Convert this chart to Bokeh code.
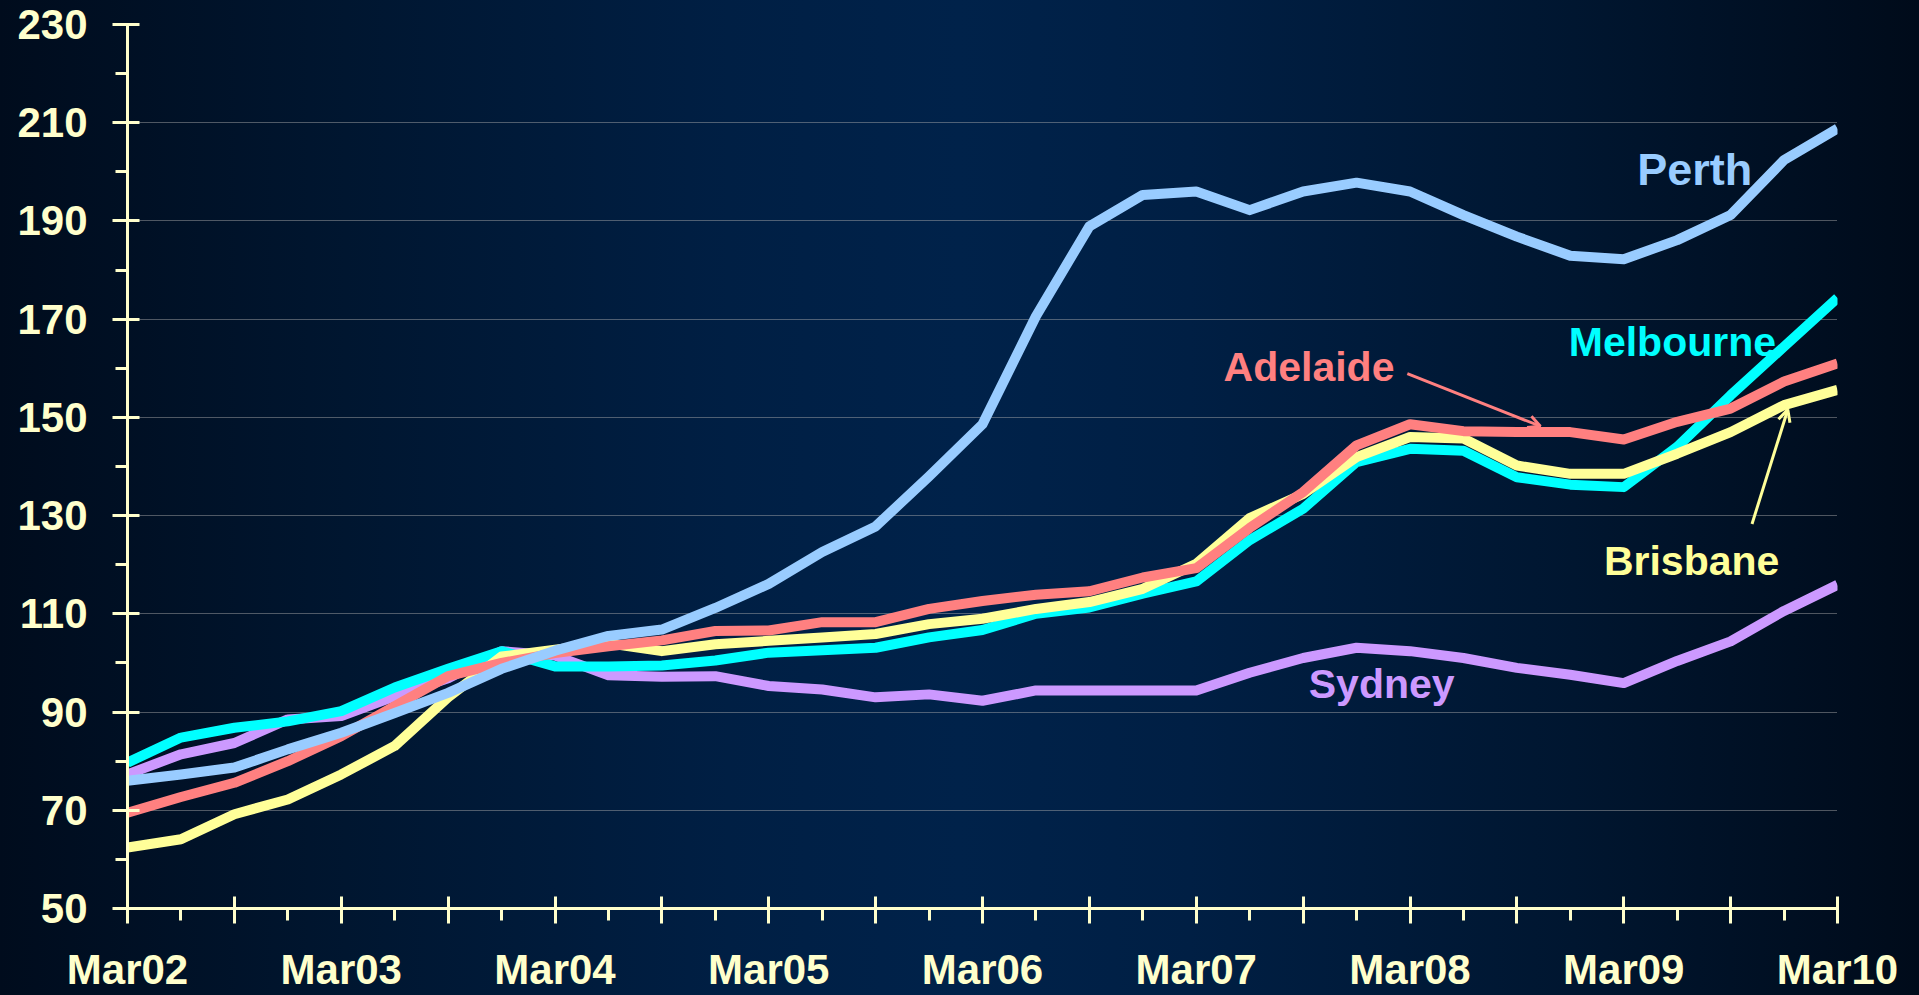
from bokeh.plotting import figure
from bokeh.models import (ColumnDataSource, Range1d, FixedTicker, Arrow, OpenHead,
                          Label, GlobalInlineStyleSheet)
from bokeh.embed import file_html
from bokeh.resources import INLINE

# ---------------- data (quarterly index values) ----------------
quarters = ["Mar02", "Jun02", "Sep02", "Dec02", "Mar03", "Jun03", "Sep03", "Dec03",
            "Mar04", "Jun04", "Sep04", "Dec04", "Mar05", "Jun05", "Sep05", "Dec05",
            "Mar06", "Jun06", "Sep06", "Dec06", "Mar07", "Jun07", "Sep07", "Dec07",
            "Mar08", "Jun08", "Sep08", "Dec08", "Mar09", "Jun09", "Sep09", "Dec09",
            "Mar10"]
qidx = list(range(len(quarters)))

sydney = [77.3, 81.4, 83.7, 88.5, 89.2, 93.2, 96.9, 102.4, 101.5, 97.5, 97.2, 97.3,
          95.3, 94.6, 93.0, 93.6, 92.3, 94.4, 94.4, 94.4, 94.4, 98.0, 101.0, 103.1,
          102.4, 101.0, 99.0, 97.6, 95.9, 100.4, 104.4, 110.6, 115.9]
melbourne = [79.7, 84.8, 86.8, 88.1, 90.2, 95.0, 98.8, 102.4, 99.3, 99.3, 99.5, 100.5,
             102.1, 102.6, 103.1, 105.2, 106.7, 110.0, 111.3, 114.1, 116.6, 125.0, 131.4, 140.9,
             143.6, 143.2, 137.8, 136.3, 135.8, 144.0, 154.5, 164.4, 174.3]
brisbane = [62.4, 64.1, 69.2, 72.2, 77.3, 83.1, 93.0, 101.3, 102.7, 104.0, 102.4, 103.8,
            104.5, 105.2, 105.9, 107.9, 109.0, 111.0, 112.4, 115.1, 120.2, 129.5, 134.4, 141.9,
            146.0, 145.7, 140.2, 138.5, 138.5, 142.6, 147.0, 152.5, 155.6]
adelaide = [69.5, 72.7, 75.6, 80.0, 85.1, 91.2, 97.3, 100.0, 102.0, 103.4, 104.6, 106.5,
            106.6, 108.3, 108.3, 111.0, 112.6, 113.9, 114.6, 117.4, 119.3, 127.5, 134.8, 144.3,
            148.6, 147.2, 147.0, 147.0, 145.5, 149.1, 151.8, 157.3, 161.0]
perth = [76.0, 77.3, 78.7, 82.4, 85.8, 89.8, 93.9, 98.8, 102.5, 105.5, 106.8, 111.2,
         116.1, 122.6, 127.8, 138.0, 148.6, 170.6, 188.9, 195.3, 196.0, 192.2, 196.0, 197.8,
         196.0, 191.2, 186.8, 182.9, 182.2, 186.1, 191.2, 202.4, 208.8]

y_ticks = [50, 70, 90, 110, 130, 150, 170, 190, 210, 230]
y_minor = list(range(50, 231, 10))
x_major = list(range(0, 33, 2))
x_labels = {q: (quarters[q] if q % 4 == 0 else "") for q in x_major}

# ---------------- styling ----------------
CREAM = "#FFFFCC"
FONT = "Liberation Sans"
colors = {"Sydney": "#CC99FF", "Melbourne": "#00FFFF", "Brisbane": "#FFFF99",
          "Adelaide": "#FF8080", "Perth": "#99CCFF"}

gradient_css = """
html { height: 100%; background: linear-gradient(90deg, #000c1d 0%, #001630 18%,
       #001f44 38%, #00224a 50%, #001f44 62%, #001630 82%, #000b1a 100%) fixed; }
body { background: transparent; }
"""

p = figure(width=1919, height=995, output_backend="svg", toolbar_location=None,
           x_range=Range1d(0, 32), y_range=Range1d(50, 230),
           min_border_left=127, min_border_right=82, min_border_top=24, min_border_bottom=85)
p.stylesheets = [GlobalInlineStyleSheet(css=gradient_css)]
p.background_fill_alpha = 0
p.border_fill_color = "#001630"
p.border_fill_alpha = 0
p.outline_line_color = None

src = ColumnDataSource(dict(q=qidx, Sydney=sydney, Melbourne=melbourne, Brisbane=brisbane,
                            Adelaide=adelaide, Perth=perth))
for name in ["Sydney", "Melbourne", "Brisbane", "Adelaide", "Perth"]:
    p.line("q", name, source=src, line_color=colors[name], line_width=10, line_join="round")

# axes
for ax in (p.xaxis[0], p.yaxis[0]):
    ax.axis_line_color = CREAM
    ax.axis_line_width = 3
    ax.major_tick_line_color = CREAM
    ax.major_tick_line_width = 3
    ax.minor_tick_line_color = CREAM
    ax.minor_tick_line_width = 3
    ax.major_tick_in = 12
    ax.major_tick_out = 15
    ax.minor_tick_in = 0
    ax.minor_tick_out = 12
    ax.major_label_text_color = CREAM
    ax.major_label_text_font = FONT
    ax.major_label_text_font_style = "bold"
    ax.major_label_text_font_size = "42px"

p.xaxis.ticker = FixedTicker(ticks=x_major, minor_ticks=qidx)
p.xaxis.major_label_overrides = x_labels
p.xaxis.major_label_standoff = 22
p.yaxis.ticker = FixedTicker(ticks=y_ticks, minor_ticks=y_minor)
p.yaxis.major_label_standoff = 25

p.xgrid.grid_line_color = None
p.ygrid.grid_line_color = "#B0B0B0"
p.ygrid.grid_line_width = 1
p.ygrid.grid_line_dash = "1 1"
p.ygrid.grid_line_alpha = 0.9

# series labels
labels = [("Perth", 29.33, 200.5, "45px"), ("Melbourne", 28.91, 165.3, "41px"),
          ("Adelaide", 22.11, 160.2, "41px"), ("Brisbane", 29.27, 120.8, "41px"),
          ("Sydney", 23.47, 95.7, "41px")]
for name, lx, ly, fs in labels:
    p.add_layout(Label(x=lx, y=ly, text=name, text_align="center", text_baseline="middle",
                       text_color=colors[name], text_font=FONT, text_font_style="bold",
                       text_font_size=fs))

# pointer arrows
p.add_layout(Arrow(x_start=23.95, y_start=158.9, x_end=26.44, y_end=148.2,
                   line_color=colors["Adelaide"], line_width=3,
                   end=OpenHead(size=12, line_color=colors["Adelaide"], line_width=3)))
p.add_layout(Arrow(x_start=30.40, y_start=128.3, x_end=31.07, y_end=151.6,
                   line_color=colors["Brisbane"], line_width=3,
                   end=OpenHead(size=12, line_color=colors["Brisbane"], line_width=3)))

open("out.html", "w").write(file_html(p, INLINE))
